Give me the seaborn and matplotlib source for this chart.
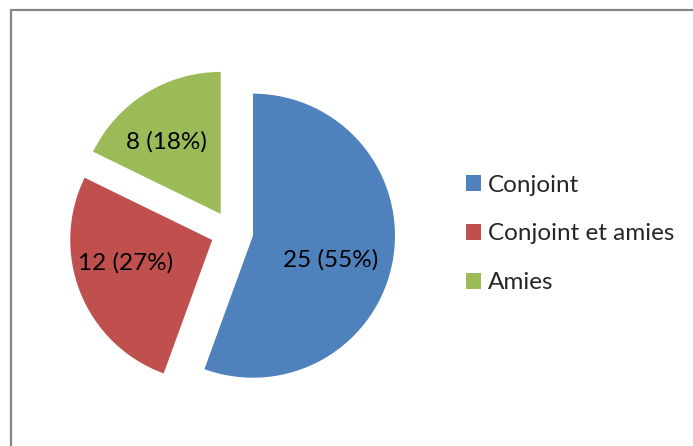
import numpy as np
import seaborn as sns
from matplotlib import pyplot as plt
from matplotlib.patches import Rectangle, Patch

# data
categories = ["Conjoint", "Conjoint et amies", "Amies"]
counts = [25, 12, 8]
percent_labels = ["55%", "27%", "18%"]
colors = ["#4F81BD", "#C0504D", "#9BBB59"]

sns.set_theme(style="white")
plt.rcParams['font.family'] = ['Lato', 'DejaVu Sans']

W, H = 693, 446
fig = plt.figure(figsize=(W / 100, H / 100), dpi=100)

# pie axes: radius 1 -> 142 px, centre at (232, 232) px from top-left
R = 142
cx, cy = 232, H - 232
half = 1.5 * R
ax = fig.add_axes([(cx - half) / W, (cy - half) / H, 2 * half / W, 2 * half / H])

wedges, _, autotexts = ax.pie(
    counts,
    colors=colors,
    startangle=90,
    counterclock=False,
    explode=[0.15, 0.15, 0.15],
    autopct=lambda p: "",
    pctdistance=0.6,
    wedgeprops=dict(linewidth=0),
)

# Excel does not sit its labels exactly on the mid angle; nudge them
label_shift = [-7, -7, 5]      # degrees
label_dist = [0.57, 0.63, 0.64]
for w, t, n, pl, da, d in zip(wedges, autotexts, counts, percent_labels, label_shift, label_dist):
    t.set_text(f"{n} ({pl})")
    t.set_fontsize(17.5)
    t.set_color("black")
    a = np.deg2rad((w.theta1 + w.theta2) / 2 + da)
    x0, y0 = w.center
    t.set_position((x0 + d * np.cos(a), y0 + d * np.sin(a)))
ax.set_xlim(-1.5, 1.5)
ax.set_ylim(-1.5, 1.5)
ax.set_aspect("equal")
ax.axis("off")

# legend on the right
handles = [Patch(facecolor=c, edgecolor="none", label=l) for c, l in zip(colors, categories)]
fig.legend(handles=handles, loc="center left",
           bbox_to_anchor=(456 / W, (H - 234) / H),
           frameon=False, fontsize=17.5, handlelength=0.62, handleheight=0.62,
           handletextpad=0.3, labelspacing=1.15, borderaxespad=0)

# chart area border (runs off the right and bottom edges)
fig.patches.append(Rectangle((11 / W, -0.1), 1.2, (H - 10) / H + 0.1,
                             transform=fig.transFigure, fill=False,
                             edgecolor="#868686", linewidth=1.6))

fig.savefig("out.png", dpi=100)
